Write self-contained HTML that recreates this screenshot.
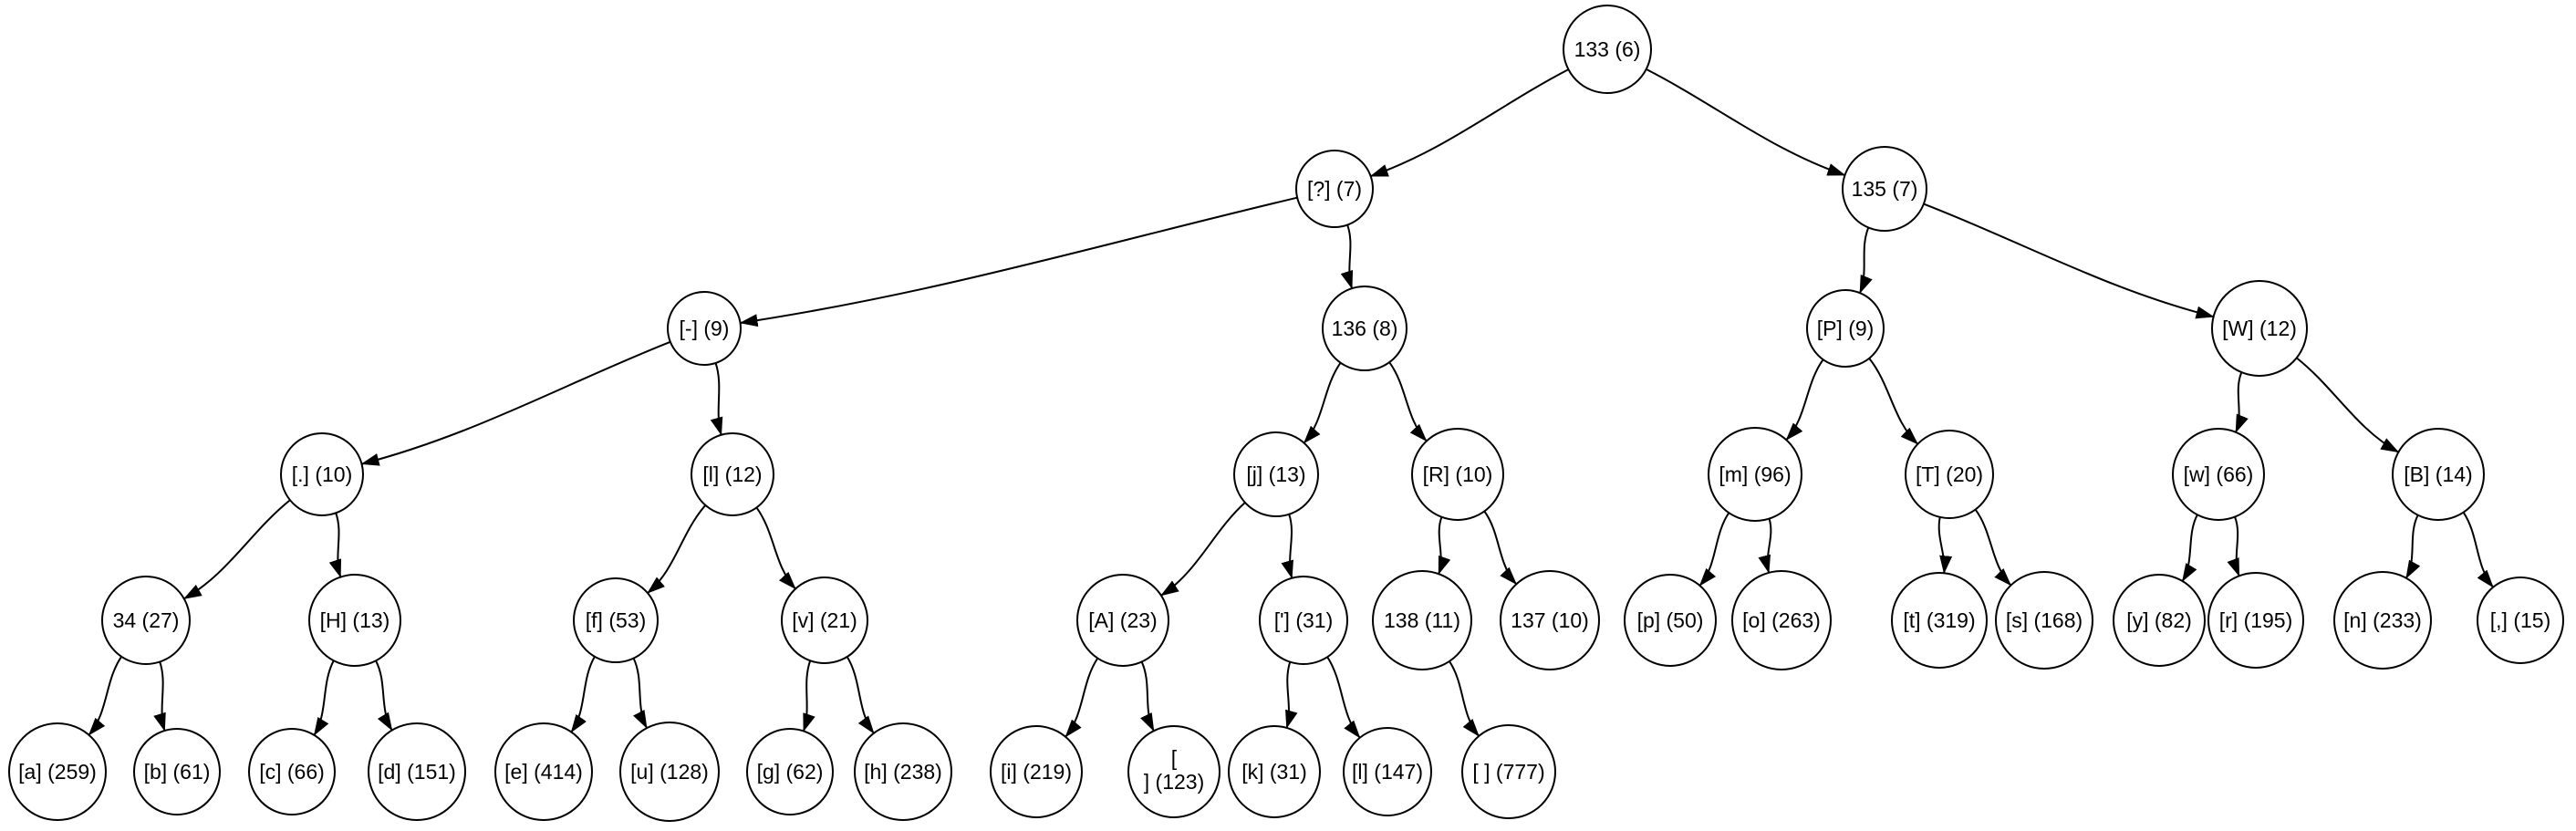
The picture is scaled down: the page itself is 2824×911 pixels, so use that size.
<!DOCTYPE html>
<html><head><meta charset="utf-8"><style>
html,body{margin:0;padding:0;background:#fff;}
svg{display:block;}
text{font-family:"Liberation Sans",sans-serif;font-size:23px;fill:#000;}
</style></head><body>
<svg id="s" width="2824" height="911" viewBox="0 0 2824 911" xmlns="http://www.w3.org/2000/svg">
<defs><marker id="a" markerUnits="userSpaceOnUse" markerWidth="20" markerHeight="14" refX="19" refY="7" orient="auto"><path d="M0,0 L20,7 L0,14 z" fill="#000"/></marker></defs>
<g id="edges" fill="none" stroke="#000" stroke-width="2"></g>
<g id="nodes" fill="#fff" stroke="#000" stroke-width="2"></g>
<g text-anchor="middle">
<text x="1762" y="62">133 (6)</text>
<text x="1463" y="215">[?] (7)</text>
<text x="2066" y="215">135 (7)</text>
<text x="772" y="368">[-] (9)</text>
<text x="1496" y="368">136 (8)</text>
<text x="2023" y="368">[P] (9)</text>
<text x="2477" y="368">[W] (12)</text>
<text x="353" y="528">[.] (10)</text>
<text x="803" y="528">[l] (12)</text>
<text x="1399" y="528">[j] (13)</text>
<text x="1598" y="528">[R] (10)</text>
<text x="1924" y="528">[m] (96)</text>
<text x="2137" y="528">[T] (20)</text>
<text x="2432" y="528">[w] (66)</text>
<text x="2673" y="528">[B] (14)</text>
<text x="160" y="688">34 (27)</text>
<text x="389" y="688">[H] (13)</text>
<text x="675" y="688">[f] (53)</text>
<text x="904" y="688">[v] (21)</text>
<text x="1231" y="688">[A] (23)</text>
<text x="1429" y="688">['] (31)</text>
<text x="1559" y="688">138 (11)</text>
<text x="1699" y="688">137 (10)</text>
<text x="1831" y="688">[p] (50)</text>
<text x="1953" y="688">[o] (263)</text>
<text x="2126" y="688">[t] (319)</text>
<text x="2241" y="688">[s] (168)</text>
<text x="2367" y="688">[y] (82)</text>
<text x="2473" y="688">[r] (195)</text>
<text x="2612" y="688">[n] (233)</text>
<text x="2763" y="688">[,] (15)</text>
<text x="63" y="854">[a] (259)</text>
<text x="194" y="854">[b] (61)</text>
<text x="320" y="854">[c] (66)</text>
<text x="457" y="854">[d] (151)</text>
<text x="596" y="854">[e] (414)</text>
<text x="734" y="854">[u] (128)</text>
<text x="866" y="854">[g] (62)</text>
<text x="990" y="854">[h] (238)</text>
<text x="1136" y="854">[i] (219)</text>
<text x="1287" y="839">[</text>
<text x="1287" y="865">] (123)</text>
<text x="1397" y="854">[k] (31)</text>
<text x="1521" y="854">[l] (147)</text>
<text x="1654" y="854">[ ] (777)</text>
</g>
</svg>
<script>
var N={
r:[1762,54,48],q:[1463,207,42],c135:[2066,207,46],
m:[772,360,40],c136:[1496,360,46],P:[2023,360,42],W:[2477,360,52],
dot:[353,520,45],l12:[803,520,45],j:[1399,520,46],R:[1598,520,50],mm:[1924,520,51],T:[2137,520,48],w:[2432,520,50],B:[2673,520,50],
n34:[160,680,48],H:[389,680,50],f:[675,680,46],v:[904,680,47],A:[1231,680,50],ap:[1429,680,48],c138:[1559,680,54],c137:[1699,680,54],p:[1831,680,50],o:[1953,680,54],t:[2126,680,52],s:[2241,680,53],y:[2367,680,50],rr:[2473,680,52],n:[2612,680,53],cm:[2763,680,47],
a:[63,846,53],b:[194,846,47],c:[320,846,47],d:[457,846,53],e:[596,846,53],u:[734,846,54],g:[866,846,47],h:[990,846,53],i:[1136,846,50],nl:[1287,846,50],k:[1397,846,50],l147:[1521,846,48],sp:[1654,846,51]};
var E=[["r","q"],["r","c135"],["q","m"],["q","c136"],["c135","P"],["c135","W"],["m","dot"],["m","l12"],["c136","j"],["c136","R"],["P","mm"],["P","T"],["W","w"],["W","B"],
["dot","n34"],["dot","H"],["l12","f"],["l12","v"],["j","A"],["j","ap"],["R","c138"],["R","c137"],["mm","p"],["mm","o"],["T","t"],["T","s"],["w","y"],["w","rr"],["B","n"],["B","cm"],
["n34","a"],["n34","b"],["H","c"],["H","d"],["f","e"],["f","u"],["v","g"],["v","h"],["A","i"],["A","nl"],["ap","k"],["ap","l147"],["c138","sp"]];
var ns="http://www.w3.org/2000/svg",eg=document.getElementById("edges"),ng=document.getElementById("nodes");
for(var k in N){var c=document.createElementNS(ns,"circle");c.setAttribute("cx",N[k][0]);c.setAttribute("cy",N[k][1]);c.setAttribute("r",N[k][2]);ng.appendChild(c);}
E.forEach(function(e){var P=N[e[0]],C=N[e[1]];
 var dx=C[0]-P[0],dy=C[1]-P[1];
 var sx=dx*0.9+(dx>0?25:-25),sy=dy*1.0,sl=Math.hypot(sx,sy);
 var s=[P[0]+P[2]*sx/sl,P[1]+P[2]*sy/sl];
 var ex=dx*1.1,ey=dy*0.75,el=Math.hypot(ex,ey);
 var t=[C[0]-C[2]*ex/el,C[1]-C[2]*ey/el];
 var L=Math.hypot(t[0]-s[0],t[1]-s[1])*0.35;
 var c1=[s[0]+L*sx/sl,s[1]+L*sy/sl],c2=[t[0]-L*ex/el,t[1]-L*ey/el];
 var p=document.createElementNS(ns,"path");
 p.setAttribute("d","M"+s+" C"+c1+" "+c2+" "+t);p.setAttribute("marker-end","url(#a)");eg.appendChild(p);});
</script>
</body></html>
